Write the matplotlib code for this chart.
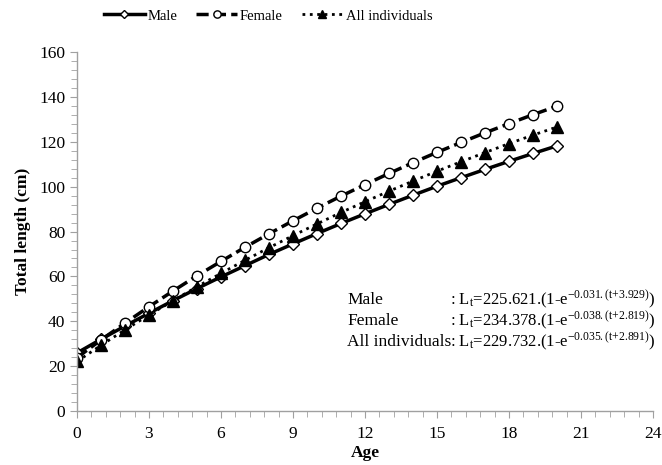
import matplotlib
matplotlib.use("Agg")
import matplotlib.pyplot as plt
from matplotlib.ticker import MultipleLocator

ages = list(range(0, 21))
male = [25.9, 32.0, 37.9, 43.6, 49.2, 54.6, 59.8, 64.8, 69.8, 74.5, 79.1,
        83.6, 87.9, 92.1, 96.2, 100.2, 104.0, 107.7, 111.3, 114.8, 118.2]
female = [23.8, 31.7, 39.2, 46.5, 53.5, 60.3, 66.7, 73.0, 79.0, 84.8, 90.4,
          95.8, 100.9, 105.9, 110.7, 115.3, 119.7, 124.0, 128.1, 132.1, 135.9]
allind = [22.1, 29.3, 36.2, 42.8, 49.2, 55.4, 61.4, 67.2, 72.8, 78.2, 83.4,
          88.5, 93.3, 98.0, 102.5, 106.9, 111.1, 115.2, 119.2, 123.0, 126.6]

plt.rcParams['font.family'] = ['Liberation Serif', 'DejaVu Serif']
plt.rcParams['mathtext.fontset'] = 'custom'
plt.rcParams['mathtext.rm'] = 'Liberation Serif'
plt.rcParams['mathtext.it'] = 'Liberation Serif'

fig = plt.figure(figsize=(6.62, 4.65), dpi=100)
ax = fig.add_axes([0.1163, 0.116, 0.870, 0.772])

ax.plot(ages, male, '-', color='black', lw=2.5, marker='D', ms=6.5,
        mfc='white', mec='black', mew=1.0, label='Male')
ax.plot(ages, female, '--', color='black', lw=2.5, marker='o', ms=7.5,
        mfc='white', mec='black', mew=1.0, label='Female', dashes=(3.5, 1.5))
ax.plot(ages, allind, ':', color='black', lw=2.0, marker='^', ms=8.5,
        mfc='black', mec='black', label='All individuals')

ax.set_xlim(0, 24)
ax.set_ylim(0, 160)
ax.xaxis.set_major_locator(MultipleLocator(3))
ax.xaxis.set_minor_locator(MultipleLocator(0.6))
ax.yaxis.set_major_locator(MultipleLocator(20))
ax.yaxis.set_minor_locator(MultipleLocator(4))
for s in ['top', 'right']:
    ax.spines[s].set_visible(False)
for s in ['left', 'bottom']:
    ax.spines[s].set_color('#a0a0a0')
    ax.spines[s].set_linewidth(1.0)
ax.tick_params(which='both', direction='out', color='#a0a0a0', labelsize=12.5,
               labelcolor='black')
ax.tick_params(which='major', length=5)
ax.tick_params(which='minor', length=4)
ax.tick_params(axis='x', pad=6)

ax.set_xlabel('Age', fontsize=12.5, fontweight='bold', labelpad=2)
ax.set_ylabel('Total length (cm)', fontsize=12.5, fontweight='bold', labelpad=6)

leg = fig.legend(loc='center', bbox_to_anchor=(268 / 662, 1 - 16 / 465), ncol=3,
                 frameon=False, fontsize=10.5, handlelength=2.8, markerscale=0.7,
                 columnspacing=1.3, handletextpad=0.2, borderpad=0.2)

names = ['Male', 'Female', 'All individuals']
forms = [r': L$_\mathrm{t}$=225.621.(1-e$^\mathrm{-0.031.(t{+}3.929)}$)',
         r': L$_\mathrm{t}$=234.378.(1-e$^\mathrm{-0.038.(t{+}2.819)}$)',
         r': L$_\mathrm{t}$=229.732.(1-e$^\mathrm{-0.035.(t{+}2.891)}$)']
ys = [300, 321, 342]
for n, f, y in zip(names, forms, ys):
    fig.text(347 / 662, 1 - y / 465, n, fontsize=12.5, va='center', ha='left')
    fig.text(450 / 662, 1 - y / 465, f, fontsize=12, va='center', ha='left')

fig.savefig('out.png', dpi=100)
